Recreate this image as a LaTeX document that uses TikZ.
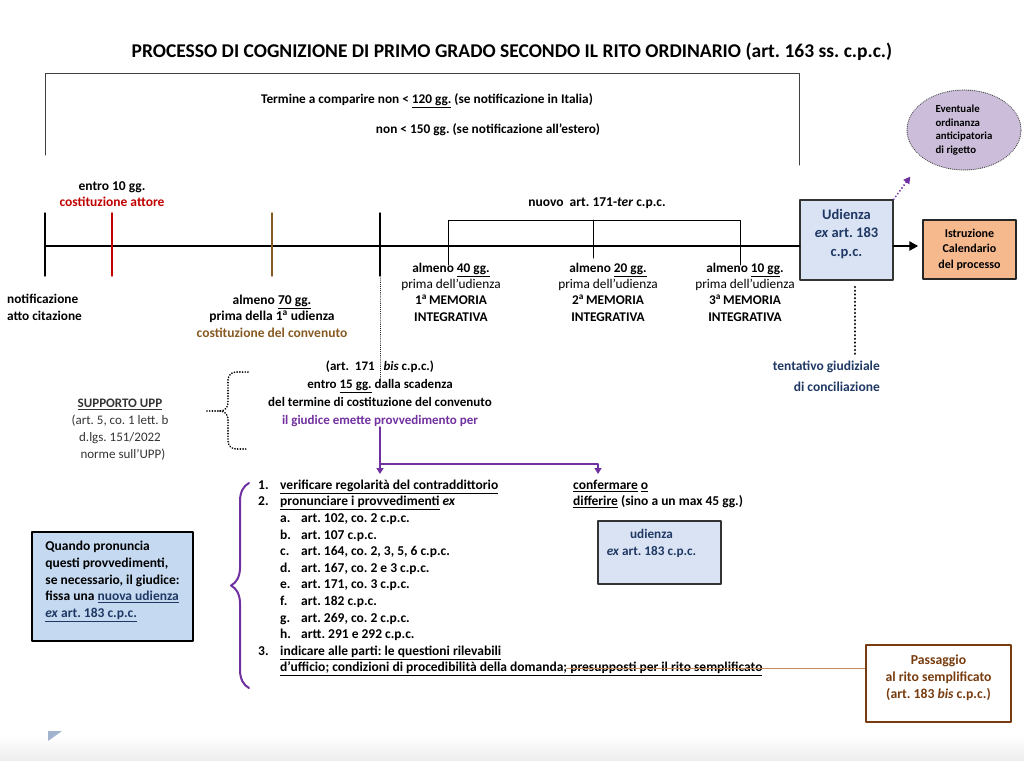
\documentclass[tikz,border=0pt]{standalone}
\usepackage{fontspec}
\setmainfont{Carlito}
\frenchspacing
\usetikzlibrary{arrows.meta,shapes.geometric,decorations.pathreplacing}
\definecolor{redtick}{RGB}{192,0,0}
\definecolor{brn}{RGB}{135,90,35}
\definecolor{rust}{RGB}{170,88,28}
\definecolor{dkbrown}{RGB}{120,60,15}
\definecolor{navy}{RGB}{31,56,100}
\definecolor{purp}{RGB}{112,48,160}
\definecolor{lilac}{RGB}{204,190,218}
\definecolor{boxblue}{RGB}{218,227,243}
\definecolor{skyblue}{RGB}{197,217,241}
\definecolor{peach}{RGB}{246,185,142}
\definecolor{corner}{RGB}{160,180,205}
\newcommand{\fs}[2]{\fontsize{#1}{#2}\selectfont}
\newcommand{\itmnum}[1]{\makebox[22pt][l]{#1}}
\newcommand{\subitm}[1]{\hspace*{22pt}\makebox[21pt][l]{#1}}
\tikzset{
  txt/.style={font=\bfseries\fs{13.5}{16.6}, inner sep=0pt, align=center},
  tickln/.style={line width=1.4pt},
  bluebox/.style={draw=black!80, line width=1.4pt, fill=boxblue},
  smalldots/.style={line width=1pt, dash pattern=on 0.1pt off 2pt},
  bigdots/.style={line width=2.4pt, dash pattern=on 0.1pt off 3.6pt},
  parr/.style={purp, line width=1.8pt, -{Triangle[length=6pt,width=7pt]}}
}
\begin{document}
\begin{tikzpicture}[x=1pt, y=-1pt, line cap=round, line join=round]
\useasboundingbox (0,0) rectangle (1024,760);
\shade[top color=white, bottom color=black!7] (0,736) rectangle (1024,760);
\fill[corner] (48,731) -- (62,731) -- (48,741) -- cycle;

\node[txt, font=\bfseries\fs{19.5}{22}] (title) at (512,52)
  {PROCESSO DI COGNIZIONE DI PRIMO GRADO SECONDO IL RITO ORDINARIO (art. 163 ss. c.p.c.)};

% termine a comparire
\draw[line width=1pt, black!75] (45,155) -- (45,73) -- (799,73) -- (799,165);
\node[txt, font=\bfseries\fs{13.3}{16}] (term1) at (427,101) {Termine a comparire non < \underline{120 gg.} (se notificazione in Italia)};
\node[txt, font=\bfseries\fs{13.3}{16}] (term2) at (488,130) {non < 150 gg. (se notificazione all’estero)};

% boxes on the line
\node[bluebox, minimum width=93pt, minimum height=80pt] (ud) at (846.5,240) {};
\node[txt, text=navy, font=\bfseries\fs{14.5}{18.5}] (udt) at ([yshift=6pt]ud.center) {Udienza\\\textit{ex} art. 183\\c.p.c.};
\node[draw=black!85, line width=1.4pt, fill=peach, txt, font=\bfseries\fs{12}{15.5}, minimum width=93pt, minimum height=59pt] (istr) at (969.5,249.5)
  {Istruzione\\Calendario\\del processo};
\node[ellipse, draw=black!70, line width=1.2pt, dash pattern=on 0.1pt off 1.8pt, fill=lilac, minimum width=114pt, minimum height=80pt,
  font=\bfseries\fs{10.8}{13.5}, align=left, inner sep=0pt] (ev) at (964,130)
  {Eventuale\\ordinanza\\anticipatoria\\di rigetto};
\node[draw=dkbrown, line width=2.6pt, fill=white, minimum width=145pt, minimum height=77pt] (pass) at (938.5,683.5) {};
\node[txt, text=dkbrown, font=\bfseries\fs{13.7}{17}] (passt) at ([yshift=6pt]pass.center)
  {Passaggio\\al rito semplificato\\(art. 183 \textit{bis} c.p.c.)};

% timeline
\coordinate (t0) at (45,246);
\draw[line width=2.6pt] (t0) -- (t0 -| ud.west);
\draw[line width=2.6pt, -{Triangle[length=9pt,width=9pt]}, shorten >=4pt] (t0 -| ud.east) -- (t0 -| istr.west);
\foreach \x/\c/\n in {45/black/k0, 112/redtick/k1, 272/brn/k2, 380/black/k3}{
  \draw[tickln, \c] (\x,213) -- (\x,276);
  \coordinate (\n) at (\x,278);
}
\draw[line width=1pt] (448,265) -- (448,220) -- (740,220) -- (740,265) (593,220) -- (593,258);
\node[txt] (ter) at (597,203) {nuovo\ \ art. 171-\textit{ter} c.p.c.};

% labels of the ticks
\node[txt] (attore) at (112,194) {entro 10 gg.\\\textcolor{redtick}{costituzione attore}};
\node[txt, align=left, anchor=west, font=\bfseries\fs{13.3}{17}] (notif) at (7,307.5) {notificazione\\atto citazione};
\node[txt] (conv) at (272,316) {almeno \underline{70 gg.}\\prima della 1\textsuperscript{a} udienza\\\textcolor{brn}{costituzione del convenuto}};
\node[txt, font=\bfseries\fs{13.3}{16.3}] (mem1) at (451,292) {almeno \underline{40 gg.}\\{\mdseries prima dell’udienza}\\1\textsuperscript{a}\,MEMORIA\\INTEGRATIVA};
\node[txt, font=\bfseries\fs{13.3}{16.3}] (mem2) at (608,292) {almeno \underline{20 gg.}\\{\mdseries prima dell’udienza}\\2\textsuperscript{a}\,MEMORIA\\INTEGRATIVA};
\node[txt, font=\bfseries\fs{13.3}{16.3}] (mem3) at (745,292) {almeno \underline{10 gg}.\\{\mdseries prima dell’udienza}\\3\textsuperscript{a}\,MEMORIA\\INTEGRATIVA};

% tentativo di conciliazione
\node[txt, text=navy, align=right, anchor=east, font=\bfseries\fs{13.5}{21}] (tent) at (880,376) {tentativo giudiziale\\di conciliazione};
\coordinate (cz) at (855,287);
\draw[bigdots, shorten >=6pt] (cz) -- (cz |- tent.north);
\draw[purp, line width=2pt, dash pattern=on 0.1pt off 3.4pt, -{Triangle[length=7pt,width=7pt]}, shorten >=22pt] (ud.north east) -- (ev.south west);

% provvedimento del giudice
\draw[smalldots] (k3) -- (380,382);
\node[txt, font=\bfseries\fs{13}{18}] (giud) at (380,394)
  {(art.\ \ 171\ \ \ \textit{bis} c.p.c.)\\entro \underline{15 gg.} dalla scadenza\\del termine di costituzione del convenuto\\\textcolor{purp}{il giudice emette provvedimento per}};
\node[txt, font=\fs{13}{17}, text=black!80] (supp) at (120,430)
  {\textbf{\underline{SUPPORTO UPP}}\\(art. 5, co. 1 lett. b\\d.lgs. 151/2022\\\ \ norme sull’UPP)};
\draw[smalldots, line width=1.8pt, dash pattern=on 0.1pt off 2.6pt] (248,372) -- (236,372) to[out=180,in=90] (228,380) -- (228,403)
  to[out=-90,in=0] (220,411) -- (207,411) (220,411) to[out=0,in=90] (228,419) -- (228,441) to[out=-90,in=180] (236,449) -- (248,449);

\coordinate (a1) at (380,474);
\coordinate (a2) at (598,474);
\coordinate (split) at (380,464);
\draw[parr] (giud.south -| a1) -- (a1);
\draw[parr] (split) -| (a2);

% list of provisions
\draw[purp, line width=2pt, decorate, decoration={brace, amplitude=18pt}] (249,688) -- (249,483);
\node[txt, align=left, anchor=west] (list) at (258,578) {%
\itmnum{1.}\underline{verificare regolarità del contraddittorio}\\
\itmnum{2.}\underline{pronunciare i provvedimenti} \textit{ex}\\
\subitm{a.}art. 102, co. 2 c.p.c.\\
\subitm{b.}art. 107 c.p.c.\\
\subitm{c.}art. 164, co. 2, 3, 5, 6 c.p.c.\\
\subitm{d.}art. 167, co. 2 e 3 c.p.c.\\
\subitm{e.}art. 171, co. 3 c.p.c.\\
\subitm{f.}art. 182 c.p.c.\\
\subitm{g.}art. 269, co. 2 c.p.c.\\
\subitm{h.}artt. 291 e 292 c.p.c.\\
\itmnum{3.}\underline{indicare alle parti: le questioni rilevabili}\\
\hspace*{22pt}\underline{d’ufficio; condizioni di procedibilità della domanda; presupposti per il rito semplificato}};
\coordinate (strk) at (566,668);
\draw[rust!70, line width=0.8pt] (strk) -- (strk -| pass.west);

\node[txt, align=left, anchor=west] (conf) at (573,494) {\underline{confermare} \underline{o}\\\underline{differire} (sino a un max 45 gg.)};
\node[bluebox, minimum width=123pt, minimum height=63pt] (ud2) at (659.5,552.5) {};
\node[txt, text=navy, font=\bfseries\fs{13.2}{17}] (ud2t) at ([xshift=-8pt,yshift=9pt]ud2.center) {udienza\\\textit{ex} art. 183 c.p.c.};
\node[draw=black, line width=1.6pt, fill=skyblue, minimum width=161pt, minimum height=109pt] (quando) at (112.5,586.5) {};
\node[txt, align=left, font=\bfseries\fs{13.5}{16.8}] (quandot) at ([yshift=5pt]quando.center)
  {Quando pronuncia\\questi provvedimenti,\\se necessario, il giudice:\\fissa una \textcolor{navy}{\underline{nuova udienza}}\\\textcolor{navy}{\underline{\textit{ex} art. 183 c.p.c.}}};
\end{tikzpicture}
\end{document}
